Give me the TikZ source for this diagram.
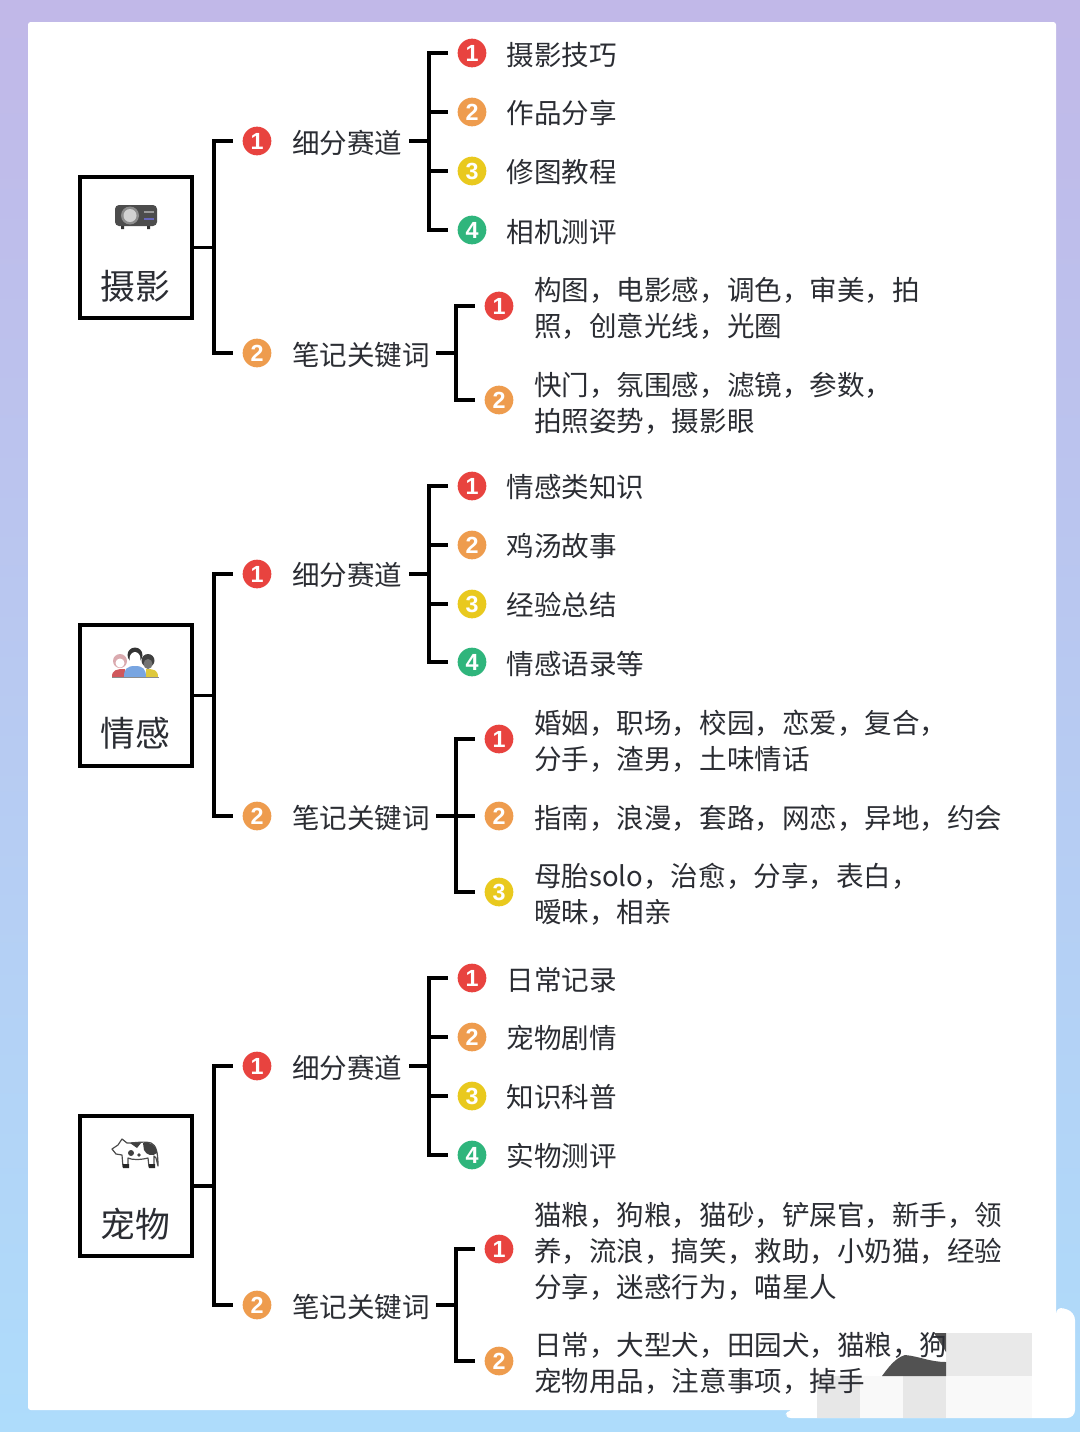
\documentclass[tikz,border=0pt]{standalone}
\usepackage{fontspec}
\setmainfont{Noto Sans CJK SC}
\newfontfamily\digitfont{Liberation Sans}[BoldFont={Liberation Sans Bold}]
\definecolor{ink}{HTML}{2B2D33}
\definecolor{rdb}{HTML}{E8433F}
\definecolor{orb}{HTML}{EE9C4E}
\definecolor{ylb}{HTML}{E9C91E}
\definecolor{grb}{HTML}{2FB57C}
\definecolor{pagetop}{HTML}{C1B8E8}
\definecolor{pagebot}{HTML}{AEDCFB}
\definecolor{shirtred}{HTML}{D0585C}
\definecolor{shirtyel}{HTML}{DEC83C}
\definecolor{shirtblue}{HTML}{78A5E1}
\definecolor{hairpink}{HTML}{DAAAAF}
\tikzset{
  rootbox/.style={draw=black,line width=3pt,fill=white,minimum width=84pt,minimum height=105.5pt,inner sep=0pt},
  roottext/.style={font=\fontsize{26.1pt}{30pt}\selectfont,text=ink,inner sep=0pt},
  badge/.style={circle,minimum size=21.5pt,inner sep=0pt,text=white,font=\digitfont\bfseries\fontsize{17.5pt}{17.5pt}\selectfont},
  rd/.style={badge,fill=rdb},
  or/.style={badge,fill=orb},
  yl/.style={badge,fill=ylb},
  gr/.style={badge,fill=grb},
  label/.style={anchor=west,inner sep=0pt,text=ink,align=left,font=\fontsize{20.65pt}{27pt}\selectfont},
  conn/.style={draw=black,line width=2.8pt,line cap=rect},
  stub/.style={conn,shorten >=8.2pt},
  stubout/.style={conn,shorten <=6pt},
}
\begin{document}
\begin{tikzpicture}[x=0.75pt,y=-0.75pt]
\useasboundingbox (0,0) rectangle (1080,1432);
% page background and white sheet
\shade[top color=pagetop,bottom color=pagebot] (0,0) rectangle (1080,1432);
\fill[white,rounded corners=2pt] (28,22) rectangle (1056,1410);
\fill[white,rounded corners=6pt] (783,1418) -- (790,1408) -- (1056,1400) -- (1056,1306) -- (1075,1312) -- (1075,1418) -- cycle;
% pixelated smudge in the lower right corner
\fill[gray!17] (946,1333) rectangle (1032,1376);
\fill[gray!19] (817,1376) rectangle (860,1418);
\fill[gray!5] (860,1376) rectangle (903,1418);
\fill[gray!19] (903,1376) rectangle (946,1418);
\fill[gray!5] (946,1376) rectangle (1032,1418);
\fill[black!68] (882,1376) .. controls (888,1368) and (895,1358) .. (905,1355) .. controls (918,1356) and (930,1362) .. (946,1362) -- (946,1376) -- cycle;
\fill[black!68] (934,1333) -- (946,1333) -- (946,1352) -- cycle;

% ---- 摄影 ----
\node[rootbox] (r1) at (135.5,247.5) {};
\node[roottext] (r1t) at (135.5,286) {摄影};
% projector icon
\fill[black!70,rounded corners=3pt] (115,205) rectangle (157,226);
\fill[black!80] (121,226) rectangle (124,229) (147,226) rectangle (150,229);
\fill[black!45] (130,215.5) circle (9);
\fill[black!18] (130,215.5) circle (6.5);
\fill[black!45!blue!60] (144,218) rectangle (154,220);
\fill[black!40] (144,211) rectangle (154,213);

\coordinate (b1) at (214,0);
\coordinate (c1) at (429,0);
\coordinate (d1) at (456,0);
\node[rd] (a1) at (257,141) {1};
\node[or] (a2) at (257,353) {2};
\node[label] (a1t) at (292,143) {细分赛道};
\node[label] (a2t) at (292,355) {笔记关键词};
\draw[conn] (r1.east) -- (b1 |- r1.east);
\draw[conn] (b1 |- a1.west) -- (b1 |- a2.west);
\draw[stub] (b1 |- a1.west) -- (a1.west);
\draw[stub] (b1 |- a2.west) -- (a2.west);

\node[rd] (e1) at (472,53) {1};
\node[or] (e2) at (472,112) {2};
\node[yl] (e3) at (472,171) {3};
\node[gr] (e4) at (472,230) {4};
\node[label] (e1t) at (506.5,55) {摄影技巧};
\node[label] (e2t) at (506.5,113) {作品分享};
\node[label] (e3t) at (506.5,172) {修图教程};
\node[label] (e4t) at (506.5,232) {相机测评};
\draw[stubout] (a1t.east |- a1.east) -- (c1 |- a1.east);
\draw[conn] (c1 |- e1.west) -- (c1 |- e4.west);
\foreach \n in {e1,e2,e3,e4} \draw[stub] (c1 |- \n.west) -- (\n.west);

\node[rd] (f1) at (499,306) {1};
\node[or] (f2) at (499,400) {2};
\node[label] (f1t) at (534,308) {构图，电影感，调色，审美，拍\\照，创意光线，光圈};
\node[label] (f2t) at (534,403) {快门，氛围感，滤镜，参数，\\拍照姿势，摄影眼};
\draw[stubout] (a2t.east |- a2.east) -- (d1 |- a2.east);
\draw[conn] (d1 |- f1.west) -- (d1 |- f2.west);
\foreach \n in {f1,f2} \draw[stub] (d1 |- \n.west) -- (\n.west);

% ---- 情感 ----
\node[rootbox] (r2) at (135.5,695.5) {};
\node[roottext] (r2t) at (135.5,733) {情感};
% three people icon
\fill[shirtred] (112,677) .. controls (112,670) and (116,669) .. (125,669) -- (125,677) -- cycle;
\fill[shirtyel] (158,677) .. controls (158,670) and (154,669) .. (146,669) -- (146,677) -- cycle;
\fill[hairpink] (120,661) circle (7);
\fill[white] (120,663) circle (4.5);
\fill[black!75] (148,660.5) circle (6.5);
\fill[black!55] (148,664) ellipse (4.5 and 5);
\fill[shirtblue] (124,677) .. controls (124,669) and (127,666) .. (135,666) .. controls (143,666) and (146,669) .. (146,677) -- cycle;
\fill[black!80] (135,655) circle (7.5);
\fill[white] (135,659) ellipse (5.5 and 7);
\draw[black!45,line width=0.8pt] (112,677.5) -- (159,677.5);

\coordinate (b2) at (214,0);
\coordinate (c2) at (429,0);
\coordinate (d2) at (456,0);
\node[rd] (g1) at (257,574) {1};
\node[or] (g2) at (257,816) {2};
\node[label] (g1t) at (292,575) {细分赛道};
\node[label] (g2t) at (292,818) {笔记关键词};
\draw[conn] (r2.east) -- (b2 |- r2.east);
\draw[conn] (b2 |- g1.west) -- (b2 |- g2.west);
\draw[stub] (b2 |- g1.west) -- (g1.west);
\draw[stub] (b2 |- g2.west) -- (g2.west);

\node[rd] (h1) at (472,486) {1};
\node[or] (h2) at (472,545) {2};
\node[yl] (h3) at (472,604) {3};
\node[gr] (h4) at (472,662) {4};
\node[label] (h1t) at (506.5,487) {情感类知识};
\node[label] (h2t) at (506.5,546) {鸡汤故事};
\node[label] (h3t) at (506.5,605) {经验总结};
\node[label] (h4t) at (506.5,664) {情感语录等};
\draw[stubout] (g1t.east |- g1.east) -- (c2 |- g1.east);
\draw[conn] (c2 |- h1.west) -- (c2 |- h4.west);
\foreach \n in {h1,h2,h3,h4} \draw[stub] (c2 |- \n.west) -- (\n.west);

\node[rd] (k1) at (499,739) {1};
\node[or] (k2) at (499,816) {2};
\node[yl] (k3) at (499,892) {3};
\node[label] (k1t) at (534,741) {婚姻，职场，校园，恋爱，复合，\\分手，渣男，土味情话};
\node[label] (k2t) at (534,818) {指南，浪漫，套路，网恋，异地，约会};
\node[label] (k3t) at (534,894) {母胎solo，治愈，分享，表白，\\暧昧，相亲};
\draw[stubout] (g2t.east |- g2.east) -- (d2 |- g2.east);
\draw[conn] (d2 |- k1.west) -- (d2 |- k3.west);
\foreach \n in {k1,k2,k3} \draw[stub] (d2 |- \n.west) -- (\n.west);

% ---- 宠物 ----
\node[rootbox] (r3) at (135.5,1186) {};
\node[roottext] (r3t) at (135.5,1224) {宠物};
% cow icon
\draw[black!70,fill=white,line width=0.9pt,line join=round] (112,1149) -- (118,1145) -- (122,1139) -- (127,1143)
  .. controls (135,1143) and (145,1141) .. (151,1143) .. controls (156,1145) and (158,1152) .. (158,1166)
  -- (156,1158) -- (154,1156) -- (154,1167) -- (149,1167) -- (148,1158)
  .. controls (140,1160) and (132,1160) .. (128,1158) -- (128,1167) -- (123,1167) -- (122,1155)
  -- (116,1154) -- cycle;
\fill[black!75] (143,1143) .. controls (150,1141) and (157,1146) .. (157,1153) .. controls (153,1157) and (146,1155) .. (144,1150) -- cycle;
\fill[black!75] (130,1143) -- (141,1143) -- (137,1148) -- cycle;
\fill[black!75] (131,1153) circle (3);
\fill[black!75] (139,1155) circle (1.8);
\fill[black!85] (123,1164) rectangle (129,1168) (149,1164) rectangle (155,1168);

\coordinate (b3) at (214,0);
\coordinate (c3) at (429,0);
\coordinate (d3) at (456,0);
\node[rd] (m1) at (257,1066) {1};
\node[or] (m2) at (257,1305) {2};
\node[label] (m1t) at (292,1068) {细分赛道};
\node[label] (m2t) at (292,1307) {笔记关键词};
\draw[conn] (r3.east) -- (b3 |- r3.east);
\draw[conn] (b3 |- m1.west) -- (b3 |- m2.west);
\draw[stub] (b3 |- m1.west) -- (m1.west);
\draw[stub] (b3 |- m2.west) -- (m2.west);

\node[rd] (n1) at (472,978) {1};
\node[or] (n2) at (472,1037) {2};
\node[yl] (n3) at (472,1096) {3};
\node[gr] (n4) at (472,1155) {4};
\node[label] (n1t) at (506.5,980) {日常记录};
\node[label] (n2t) at (506.5,1038) {宠物剧情};
\node[label] (n3t) at (506.5,1097) {知识科普};
\node[label] (n4t) at (506.5,1156) {实物测评};
\draw[stubout] (m1t.east |- m1.east) -- (c3 |- m1.east);
\draw[conn] (c3 |- n1.west) -- (c3 |- n4.west);
\foreach \n in {n1,n2,n3,n4} \draw[stub] (c3 |- \n.west) -- (\n.west);

\node[rd] (p1) at (499,1249) {1};
\node[or] (p2) at (499,1361) {2};
\node[label] (p1t) at (534,1251) {猫粮，狗粮，猫砂，铲屎官，新手，领\\养，流浪，搞笑，救助，小奶猫，经验\\分享，迷惑行为，喵星人};
\node[label] (p2t) at (534,1363) {日常，大型犬，田园犬，猫粮，狗\\宠物用品，注意事项，掉手};
\draw[stubout] (m2t.east |- m2.east) -- (d3 |- m2.east);
\draw[conn] (d3 |- p1.west) -- (d3 |- p2.west);
\foreach \n in {p1,p2} \draw[stub] (d3 |- \n.west) -- (\n.west);
\end{tikzpicture}
\end{document}
